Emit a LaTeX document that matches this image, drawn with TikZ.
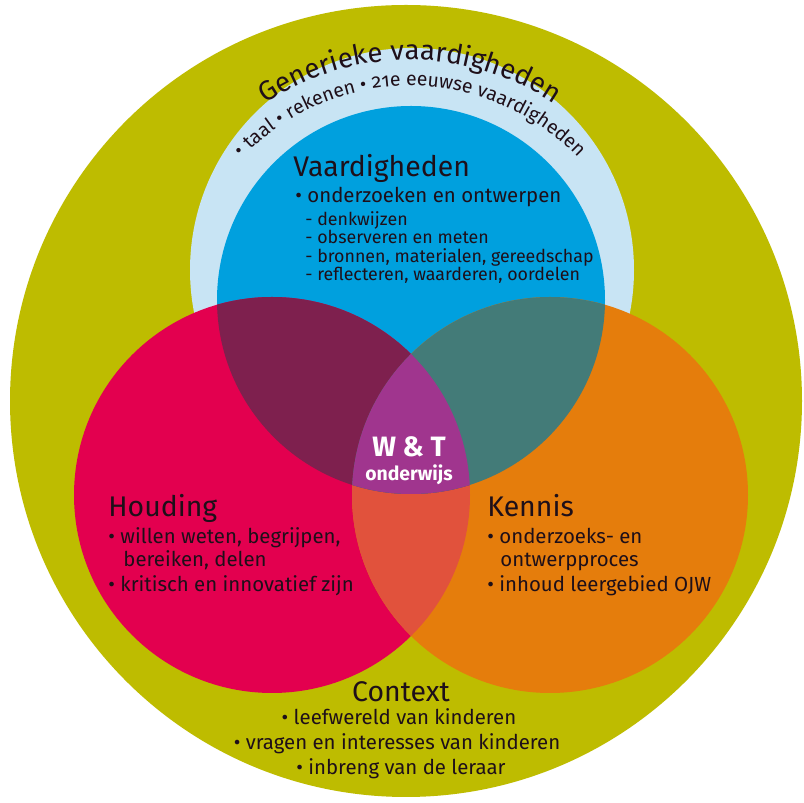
\documentclass[tikz,border=0pt]{standalone}
\usepackage{fontspec}
\setmainfont{Fira Sans}
\usetikzlibrary{calc, decorations.text}
\definecolor{olivering}{RGB}{190,188,0}
\definecolor{genblue}{RGB}{200,228,244}
\definecolor{vaardblue}{RGB}{0,160,222}
\definecolor{houdred}{RGB}{227,0,79}
\definecolor{kennorange}{RGB}{229,125,12}
\definecolor{vhmaroon}{RGB}{126,32,78}
\definecolor{vkteal}{RGB}{67,123,120}
\definecolor{hkcoral}{RGB}{225,82,60}
\definecolor{wtpurple}{RGB}{160,53,142}
\definecolor{ink}{RGB}{30,15,25}
\tikzset{headtxt/.style={anchor=base west, inner sep=0pt, text=ink,
    font=\fontsize{14.2}{16}\selectfont}}
\tikzset{itemtxt/.style={anchor=base west, inner sep=0pt, text=ink,
    font=\fontsize{10.2}{12}\selectfont}}
\tikzset{subtxt/.style={anchor=base west, inner sep=0pt, text=ink,
    font=\fontsize{8.9}{11}\selectfont}}
\tikzset{ctrhead/.style={headtxt, anchor=base}}
\tikzset{ctritem/.style={itemtxt, anchor=base}}
\tikzset{wttxt/.style={anchor=base, inner sep=0pt, text=white}}

\begin{document}
\begin{tikzpicture}[x=0.5pt, y=0.5pt]
  \useasboundingbox (0,0) rectangle (804,803);
  \fill[white] (0,0) rectangle (804,803);
  % centres
  \coordinate (outer) at (406,402);
  \coordinate (gen) at (412,533);
  \coordinate (vaard) at (411,503);
  \coordinate (houd) at (272,308);
  \coordinate (kenn) at (550,308);
  \coordinate (arcc) at (410,485);
  % discs
  \fill[olivering] (outer) circle (396);
  \fill[genblue] (gen) circle (222);
  \fill[vaardblue] (vaard) circle (194);
  \fill[houdred] (houd) circle (198);
  \fill[kennorange] (kenn) circle (198);
  % overlaps
  \begin{scope}
    \clip (houd) circle (198);
    \fill[hkcoral] (kenn) circle (198);
  \end{scope}
  \begin{scope}
    \clip (vaard) circle (194);
    \fill[vhmaroon] (houd) circle (198);
    \fill[vkteal] (kenn) circle (198);
    \clip (houd) circle (198);
    \fill[wtpurple] (kenn) circle (198);
  \end{scope}
  % curved text
  \path[decorate, decoration={text along path, text align=center, text color=ink,
      text={|\fontsize{13.8}{16}\selectfont|Generieke vaardigheden}}]
    ($(arcc)+(160:258)$) arc[start angle=160, end angle=20, radius=258];
  \path[decorate, decoration={text along path, text align=center, text color=ink,
      text={|\fontsize{9.7}{12}\selectfont\addfontfeature{Numbers=OldStyle}|• taal • rekenen • 21e eeuwse vaardigheden}}]
    ($(arcc)+(170:232)$) arc[start angle=170, end angle=10, radius=232];
  % Vaardigheden
  \node[headtxt] (vaardhead) at (293,626) {Vaardigheden};
  \node[itemtxt] (vaard0) at (295,600) {• onderzoeken en ontwerpen};
  \foreach \yy/\txt [count=\i] in {577/denkwijzen, 559/observeren en meten,
      540/{bronnen, materialen, gereedschap}, 522/{reflecteren, waarderen, oordelen}}
    \node[subtxt] (vaard\i) at (305,\yy) {- \txt};
  % Houding
  \node[headtxt] (houdhead) at (108,286) {Houding};
  \node[itemtxt] (houd1) at (108,259) {• willen weten, begrijpen,};
  \node[itemtxt] (houd2) at (123,236) {bereiken, delen};
  \node[itemtxt] (houd3) at (108,211) {• kritisch en innovatief zijn};
  % Kennis
  \node[headtxt] (kennhead) at (487,286) {Kennis};
  \node[itemtxt] (kenn1) at (487,259) {• onderzoeks- en};
  \node[itemtxt] (kenn2) at (500,236) {ontwerpproces};
  \node[itemtxt] (kenn3) at (487,211) {• inhoud leergebied OJW};
  % Context
  \node[ctrhead] (conthead) at (401,101) {Context};
  \node[ctritem] (cont1) at (399,78) {• leefwereld van kinderen};
  \node[ctritem] (cont2) at (397,53) {• vragen en interesses van kinderen};
  \node[ctritem] (cont3) at (401,28) {• inbreng van de leraar};
  % centre
  \node[wttxt, font=\bfseries\fontsize{14}{16}\selectfont] (wt) at (409,346) {W \& T};
  \node[wttxt, font=\bfseries\fontsize{9.7}{12}\selectfont] (wtsub) at (409,322) {onderwijs};
\end{tikzpicture}
\end{document}
